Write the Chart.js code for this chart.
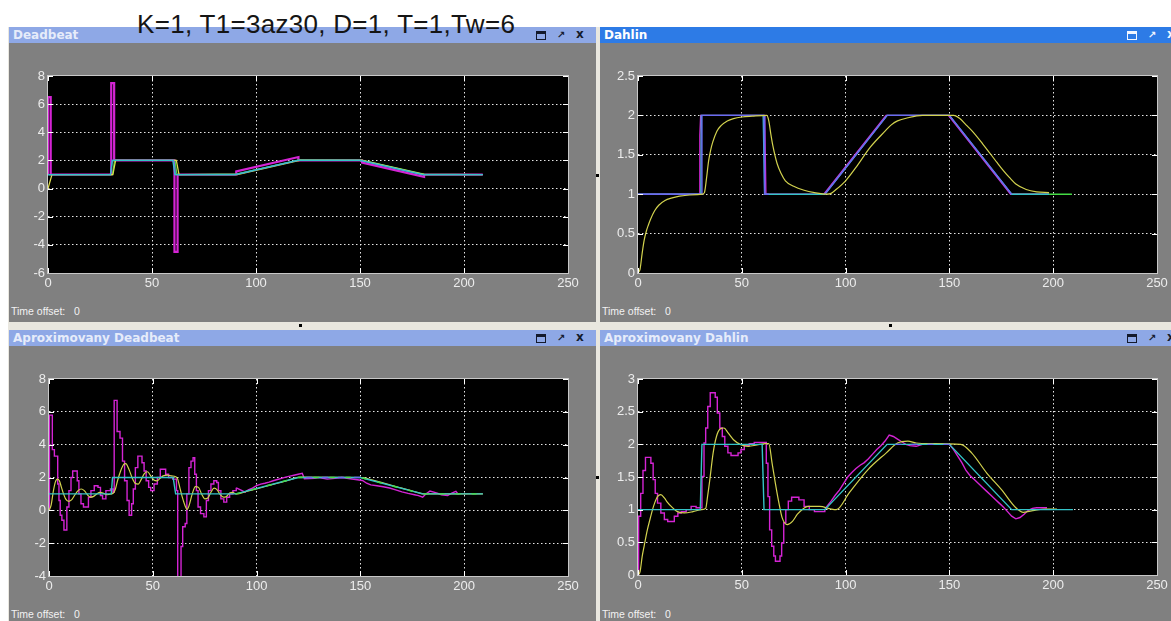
<!DOCTYPE html>
<html>
<head>
<meta charset="utf-8">
<script src="https://cdn.jsdelivr.net/npm/chart.js@4.4.1/dist/chart.umd.min.js"></script>
<style>
  html, body { margin: 0; padding: 0; }
  body { width: 1171px; height: 621px; position: relative; overflow: hidden; background: #ffffff; }
  .frame { position: absolute; background: #e9e7df; }
  .win { position: absolute; background: #808080; overflow: hidden; }
  .bar { position: absolute; left: 0; right: 0; top: 0; height: 16px; background: #8ea8e6; color: #e6ecfa;
         font: bold 12px 'DejaVu Sans', sans-serif; line-height: 16px; padding-left: 4px; box-sizing: border-box; white-space: nowrap; }
  .bar.active { background: #2d7be6; color: #ffffff; }
  .maxbox { position: absolute; left: 527px; top: 4px; width: 8px; height: 5px; border: 1.5px solid #141a2c; border-top-width: 3px; }
  .arrow { position: absolute; left: 548px; top: 0; font: bold 10px 'DejaVu Sans', sans-serif; line-height: 16px; color: #141a2c; }
  .close { position: absolute; left: 567px; top: 0; font: bold 12px 'DejaVu Sans', sans-serif; line-height: 15px; color: #141a2c; }
  .active .maxbox { border-color: #f2f6ff; }
  .active .arrow, .active .close { color: #f2f6ff; }
  .offset { position: absolute; left: 2px; font: 10.5px 'Liberation Sans', Arial, sans-serif; color: #f2f2f2; white-space: pre; }
  canvas { position: absolute; left: 0; top: 16px; }
  .dot { position: absolute; width: 3px; height: 3px; background: #000; }
  .heading { position: absolute; left: 137px; top: 12px; font: 26px 'Liberation Sans', Arial, sans-serif; letter-spacing: 0.3px;
             line-height: 25px; color: #151515; white-space: nowrap; z-index: 5; }
</style>
</head>
<body>
<div class="frame" style="left:8px;top:27px;width:1163px;height:594px;"></div>

<div class="win" style="left:9px;top:27px;width:587px;height:295px;">
  <div class="bar">Deadbeat<div class="maxbox"></div><div class="arrow">↗</div><div class="close">x</div></div>
  <canvas id="cDeadbeat" width="587" height="262"></canvas>
  <div class="offset" style="top:278px;">Time offset:   0</div>
</div>

<div class="win" style="left:600px;top:27px;width:571px;height:295px;">
  <div class="bar active">Dahlin<div class="maxbox"></div><div class="arrow">↗</div><div class="close">x</div></div>
  <canvas id="cDahlin" width="571" height="262"></canvas>
  <div class="offset" style="top:278px;">Time offset:   0</div>
</div>

<div class="win" style="left:9px;top:330px;width:587px;height:291px;">
  <div class="bar">Aproximovany Deadbeat<div class="maxbox"></div><div class="arrow">↗</div><div class="close">x</div></div>
  <canvas id="cApproxDeadbeat" width="587" height="262"></canvas>
  <div class="offset" style="top:278px;">Time offset:   0</div>
</div>

<div class="win" style="left:600px;top:330px;width:571px;height:291px;">
  <div class="bar">Aproximovany Dahlin<div class="maxbox"></div><div class="arrow">↗</div><div class="close">x</div></div>
  <canvas id="cApproxDahlin" width="571" height="262"></canvas>
  <div class="offset" style="top:278px;">Time offset:   0</div>
</div>

<div class="dot" style="left:299px;top:324px;"></div>
<div class="dot" style="left:889px;top:324px;"></div>
<div class="dot" style="left:596px;top:174px;"></div>
<div class="dot" style="left:596px;top:476px;"></div>

<div class="heading">K=1, T1=3az30, D=1, T=1,Tw=6</div>

<script>
// ---- shared axis settings ----
const timeTicks = [0, 50, 100, 150, 200, 250];

// ---- Deadbeat: [time, value] ----
const dbSetpoint = [[0,1],[30,1],[31,2],[60,2],[61,1],[90,1],[120,2],[150,2],[180,1],[209,1]];
const dbBlue     = [[0,1],[30,1],[30.8,2],[60.4,2],[61.3,1],[90,1],[120,2],[150,2],[180,1],[209,1]];
const dbOutput   = [[0,0],[0.4,0],[1.9,1],[31.2,1],[32.5,2],[61.7,2],[63,1],[91,1],[121,2],[151,2],[181,1],[209,1]];
const dbGreen    = [[0,1],[31,1],[32,2],[61,2],[62,1],[90.8,1.04],[120.8,2.04],[150.8,2.03],[180.8,1.03],[209,1]];
const dbControl  = [[0,1],[0,6.5],[1.3,6.5],[1.3,1],[30.4,1],[30.4,7.5],[31.8,7.5],[31.8,2],[60.8,2],[60.8,-4.5],
                    [62.3,-4.5],[62.3,1],[90.5,1],[90.5,1.22],[120.4,2.24],[120.4,2],[151,2],[151,1.84],[180.8,0.84],[180.8,1],[209,1]];

// ---- Dahlin ----
const dhSetpoint = [[0,1],[30.3,1],[30.5,2],[60.3,2],[61,1],[90,1],[120,2],[150,2],[180,1],[198,1]];
const dhBlue     = [[0,1],[30.6,1],[30.8,2],[60.7,2],[61,1],[63,1],[63,null],[90,null],[90,1],[120,2],[150,2],[180,1]];
const dhControl  = [[0,1],[29.8,1],[29.8,1.75],[30.2,2],[61,2],[61.6,1],[89.5,1],[119.5,2],[149.5,2],[179.5,1],[198,1]];
const dhGreen    = [[180,1],[209,1]];
const dhOutput   = [[0,0],[1,0.05],[2,0.25],[3,0.42],[4,0.53],[5,0.61],[6,0.68],[8,0.79],[10,0.86],[13,0.92],[16,0.95],
                    [20,0.975],[25,0.99],[31,1.0],[32,1.02],[33,1.2],[34,1.42],[35,1.56],[36,1.66],[38,1.8],[40,1.87],
                    [43,1.93],[46,1.96],[50,1.98],[55,1.99],[62,2.0],[63,1.93],[64,1.76],[65,1.61],[67,1.39],[69,1.26],
                    [71,1.17],[75,1.1],[80,1.05],[85,1.02],[91,1.0],[93,1.01],[95,1.05],[100,1.17],[105,1.34],[112,1.6],
                    [119,1.8],[122,1.88],[125,1.93],[130,1.97],[137,2.0],[152,2.0],[155,1.96],[158,1.88],[161,1.8],
                    [166,1.64],[173,1.4],[176,1.3],[179,1.21],[182,1.13],[187,1.06],[192,1.03],[198,1.02]];

// ---- Aproximovany Deadbeat ----
const adSetpoint = [[0,1],[30,1],[30.6,2],[59.8,2],[61,1],[90,1],[120,2],[150,2],[180,1],[209,1]];
const adRamp     = [[90,1],[120,2],[150,2],[180,1],[209,1]];
const adFlat     = [[120,2],[150,2]];
const adOutput   = [[0,0],[1,0.3],[2,1.1],[3,1.7],[4,1.9],[5,1.8],[6,1.4],[7,1.0],[8,0.7],[9.5,0.55],[11,0.65],[12.5,0.95],
                    [14,1.2],[15.5,1.3],[17,1.2],[18.5,0.95],[20,0.8],[21.5,0.85],[23,1.0],[24.5,1.1],[26,1.05],[28,0.95],
                    [30,1.0],[31,1.05],[32,1.3],[33,1.8],[34.5,2.4],[36,2.8],[37,2.85],[38.5,2.5],[40,2.0],[41.5,1.65],
                    [43,1.6],[44.5,1.9],[46,2.25],[47.5,2.35],[49,2.1],[50.5,1.85],[52,1.8],[53.5,1.95],[55,2.1],[57,2.15],
                    [59,2.1],[61,2.05],[62,1.9],[63,1.4],[64,0.9],[65.5,0.3],[66.5,0.05],[67.5,0.3],[69,1.0],[70.5,1.45],
                    [72,1.4],[73.5,1.0],[75,0.7],[76.5,0.75],[78,1.1],[79.5,1.35],[81,1.25],[82.5,0.95],[84,0.8],[85.5,0.85],
                    [87,1.05],[88.5,1.1],[90,1.0],[91,1.0],[95,1.15],[100,1.3],[105,1.48],[110,1.65],[115,1.82],[121,2.02],
                    [151,2.0],[155,1.87],[160,1.7],[165,1.52],[170,1.35],[175,1.18],[181,1.0],[185,1.0],[209,1.0]];
// transient part of the control signal (zero-order hold) and its tracking part
const adControlStep = [[0,0],[0.2,5.8],[1.6,3.7],[2.6,3.3],[4.2,1.6],[4.8,0.6],[5.4,-0.3],[6.2,-0.6],[7.2,-1.2],[8.6,0.2],
                    [9.6,1.2],[10.6,2.0],[11.4,2.4],[13.6,1.8],[14.4,1.0],[15.4,0.4],[16.6,0.2],[19.0,0.8],[20.2,1.2],
                    [21.8,1.5],[23.6,1.4],[24.8,0.9],[25.8,0.7],[27.4,1.2],[29.6,1.3],[30.8,1.1],[31.4,6.7],[32.8,4.8],
                    [34.2,4.4],[35.4,3.0],[36.4,1.8],[37.6,0.6],[38.6,-0.3],[39.8,0.4],[40.6,1.3],[41.6,2.6],[42.8,3.3],
                    [44.8,2.9],[45.8,2.4],[46.8,1.8],[48,1.4],[49,1.2],[50.6,1.6],[52.2,2.0],[53.6,2.5],[56.2,2.2],
                    [57.6,2.0],[59.6,1.9],[61.4,1.2],[62,-4.6],[63.6,-2.2],[64.4,-1.0],[65.6,-0.8],[66.4,1.0],[67.4,2.6],
                    [68.4,3.0],[69.4,3.2],[70.2,2.2],[71,1.2],[71.8,0.2],[73,-0.2],[74.6,-0.4],[75.8,0.6],[76.8,1.2],
                    [78,1.6],[79.4,1.8],[80.8,1.7],[81.6,1.2],[82.8,0.7],[84.2,0.5],[85.6,0.8],[87,1.0],[88.6,1.2],[90.2,1.37]];
const adControlTrack = [[90.2,1.37],[93,1.2],[94.5,1.1],[96,1.25],[98,1.35],[100,1.5],[102,1.6],[104,1.65],[106,1.72],
                    [108,1.8],[110,1.88],[112,1.95],[114,2.02],[116,2.08],[118,2.14],[120,2.2],[122,2.26],[123,1.92],
                    [128,1.95],[130,2.0],[134,1.9],[139,1.96],[141,2.0],[151,1.82],[153,1.65],[155,1.55],[158,1.5],
                    [161,1.44],[164,1.36],[167,1.25],[170,1.12],[173,1.03],[176,0.95],[178,0.9],[180,0.8],[181.5,1.0],
                    [183.5,1.17],[187,1.05],[189,0.95],[192,0.9],[194,1.05],[196,1.15],[197,1.0],[197.5,1.0]];

// ---- Aproximovany Dahlin ----
const adhSetpoint = [[0,1],[30,1],[30.8,2],[59.8,2],[60.7,1],[90,1],[120,2],[150,2],[180,1],[209.5,1]];
const adhFlat     = [[124,2],[150,2]];
const adhOutput   = [[0,0],[1,0.05],[2,0.28],[3,0.45],[4.5,0.69],[6,0.88],[7,1.0],[8,1.1],[9.4,1.2],[11,1.23],[12.7,1.18],
                     [14,1.12],[16,1.05],[19,0.97],[22.4,0.95],[26.5,0.97],[30.5,1.0],[32.6,1.02],[33.5,1.2],[34.6,1.46],
                     [36.2,1.87],[37.8,2.12],[39.4,2.23],[41.4,2.25],[43.5,2.17],[46,2.07],[49.2,2.0],[53.2,1.97],
                     [57.3,1.99],[61.4,2.01],[63,2.01],[64.6,1.71],[66.2,1.4],[67.9,1.1],[69.5,0.87],[71.9,0.77],
                     [74.4,0.82],[76.8,0.93],[79,1.0],[82,1.05],[87.5,1.05],[93,1.01],[95.5,1.0],[101.8,1.26],
                     [110.7,1.61],[119.6,1.87],[125,2.02],[130,2.05],[134,2.02],[141,2.01],[155.4,2.0],[160.7,1.87],
                     [168,1.56],[175,1.31],[182,1.03],[185.7,0.96],[191,0.99],[196.4,1.01],[201.8,1.01]];
const adhControlStep  = [[0,0],[0.3,0.9],[1.3,1.25],[2.4,1.6],[3.6,1.8],[6.2,1.71],[7.3,1.46],[8.3,1.25],[9.4,1.1],[11,0.95],
                     [12.7,0.85],[14.3,0.82],[17.5,0.9],[19.2,0.95],[20.8,0.97],[23.2,1.0],[25.6,1.05],[28,1.03],
                     [30.8,1.51],[31.8,2.02],[32.6,2.25],[33.6,2.58],[34.8,2.79],[37.2,2.72],[38.2,2.48],[39.4,2.25],
                     [40.6,2.12],[41.8,1.97],[43.3,1.87],[44.8,1.83],[48.2,1.87],[49.6,1.92],[51.2,1.98],[53.6,2.01],
                     [56,2.03],[61.8,1.71],[62.6,1.2],[63.4,0.69],[64.4,0.44],[65.4,0.29],[66.2,0.21],[68.4,0.29],
                     [69.2,0.49],[70.2,0.8],[71.2,1.0],[72.4,1.13],[74,1.19],[77.5,1.15],[80,1.05],[82.5,1.0],[85,0.97],[90,1.0]];
const adhControlTrack = [[90,1.0],[91,1.05],[93,1.13],[95,1.22],[97,1.3],[99,1.4],[101,1.5],[103,1.57],[105,1.63],[107,1.68],
                     [109,1.72],[111,1.78],[113,1.85],[115,1.92],[117,1.98],[119,2.05],[121,2.14],[123,2.12],[125,2.08],
                     [127,2.04],[129,2.0],[131,1.98],[134,1.97],[137,2.0],[150,2.0],[152,1.92],[154,1.82],[156,1.72],
                     [158,1.6],[160,1.52],[162,1.46],[164,1.4],[166,1.34],[168,1.28],[170,1.22],[172,1.16],[174,1.1],
                     [176,1.04],[178,0.97],[180,0.9],[182,0.86],[184,0.88],[186,0.93],[188,0.99],[190,1.02],[192,1.03],[197,1.03]];

// ---- trace colours ----
const YELLOW = '#e0e04c', YELLOW_DIM = '#d2d24e', MAGENTA = '#d424d4', CYAN = '#34c4c8', BLUE = '#6a6af2', GREEN = '#44dc44';
const FONT = "'Liberation Sans', Arial, sans-serif";

// black plot area, light frame and inward tick marks
const scopeFrame = {
  id: 'scopeFrame',
  beforeDraw(chart) {
    const a = chart.chartArea, ctx = chart.ctx;
    ctx.save();
    ctx.fillStyle = '#000';
    ctx.fillRect(a.left, a.top, a.right - a.left, a.bottom - a.top);
    ctx.restore();
  },
  afterDraw(chart) {
    const a = chart.chartArea, ctx = chart.ctx;
    const xs = chart.scales.x, ys = chart.scales.y;
    ctx.save();
    ctx.strokeStyle = '#ffffff';
    ctx.lineWidth = 1;
    ctx.beginPath();
    xs.ticks.forEach(t => {
      const px = Math.round(xs.getPixelForValue(t.value)) + 0.5;
      ctx.moveTo(px, a.top); ctx.lineTo(px, a.top + 5);
      ctx.moveTo(px, a.bottom); ctx.lineTo(px, a.bottom - 5);
    });
    ys.ticks.forEach(t => {
      const py = Math.round(ys.getPixelForValue(t.value)) + 0.5;
      ctx.moveTo(a.left, py); ctx.lineTo(a.left + 5, py);
      ctx.moveTo(a.right, py); ctx.lineTo(a.right - 5, py);
    });
    ctx.stroke();
    ctx.strokeStyle = '#c8c8c8';
    ctx.strokeRect(Math.round(a.left) - 0.5, Math.round(a.top) - 0.5,
                   Math.round(a.right - a.left) + 1, Math.round(a.bottom - a.top) + 1);
    ctx.restore();
  }
};

function buildScope(canvasId, box, yMin, yMax, yStep, layers) {
  const canvas = document.getElementById(canvasId);
  const W = canvas.width, H = canvas.height;
  const edgeAware = (lo, hi) => c =>
    (c.tick && (Math.abs(c.tick.value - lo) < 1e-9 || Math.abs(c.tick.value - hi) < 1e-9))
      ? 'rgba(0,0,0,0)' : 'rgba(255,255,255,0.9)';
  const tickStyle = { color: '#ececec', font: { family: FONT, size: 13 }, padding: 3 };
  return new Chart(canvas, {
    type: 'line',
    data: {
      datasets: layers.map(L => ({
        data: L.pts.map(p => ({ x: p[0], y: p[1] })),
        borderColor: L.color,
        borderWidth: L.width || 1.25,
        borderDash: L.dash || [],
        borderDashOffset: L.dashOffset || 0,
        stepped: !!L.stepped,
        cubicInterpolationMode: L.smooth ? 'monotone' : 'default',
        tension: 0,
        pointRadius: 0,
        pointHoverRadius: 0,
        fill: false,
        spanGaps: false
      }))
    },
    options: {
      responsive: false,
      animation: false,
      events: [],
      layout: { padding: { top: box.top, right: W - box.right, left: 0, bottom: 0 } },
      plugins: { legend: { display: false }, tooltip: { enabled: false } },
      scales: {
        x: {
          type: 'linear', position: 'bottom', min: 0, max: 250,
          afterFit: s => { s.height = H - box.bottom; },
          afterBuildTicks: s => { s.ticks = timeTicks.map(v => ({ value: v })); },
          ticks: Object.assign({ maxRotation: 0, autoSkip: false, callback: v => String(v) }, tickStyle),
          grid: { color: edgeAware(0, 250), drawTicks: false, lineWidth: 1 },
          border: { display: false, dash: [1.5, 2.5] }
        },
        y: {
          type: 'linear', min: yMin, max: yMax,
          afterFit: s => { s.width = box.left; },
          ticks: Object.assign({ stepSize: yStep, autoSkip: false, callback: v => String(+v.toFixed(2)) }, tickStyle),
          grid: { color: edgeAware(yMin, yMax), drawTicks: false, lineWidth: 1 },
          border: { display: false, dash: [1.5, 2.5] }
        }
      }
    },
    plugins: [scopeFrame]
  });
}

// Layers are listed top-most first.
buildScope('cDeadbeat', { left: 39, top: 33, right: 559, bottom: 230 }, -6, 8, 2, [
  { pts: dbSetpoint, color: CYAN },
  { pts: dbBlue, color: BLUE },
  { pts: dbOutput, color: YELLOW },
  { pts: dbGreen, color: GREEN },
  { pts: dbControl, color: MAGENTA, width: 2.2 }
]);

buildScope('cDahlin', { left: 38, top: 33, right: 557, bottom: 230 }, 0, 2.5, 0.5, [
  { pts: dhOutput, color: YELLOW_DIM, smooth: true, width: 1.2 },
  { pts: dhBlue, color: BLUE, width: 1.4 },
  { pts: dhSetpoint, color: CYAN, width: 1.4 },
  { pts: dhControl, color: MAGENTA, width: 1.4 },
  { pts: dhGreen, color: GREEN, width: 1.4 }
]);

buildScope('cApproxDeadbeat', { left: 40, top: 33, right: 559, bottom: 230 }, -4, 8, 2, [
  { pts: adRamp, color: GREEN, dash: [5, 11], width: 1.4 },
  { pts: adFlat, color: BLUE, dash: [6, 10], dashOffset: 8, width: 1.4 },
  { pts: adSetpoint, color: CYAN, width: 1.4 },
  { pts: adOutput, color: YELLOW_DIM, smooth: true, width: 1.2 },
  { pts: adControlStep, color: MAGENTA, stepped: true, width: 1.4 },
  { pts: adControlTrack, color: MAGENTA, width: 1.4 }
]);

buildScope('cApproxDahlin', { left: 38, top: 33, right: 557, bottom: 229 }, 0, 3, 0.5, [
  { pts: adhFlat, color: BLUE, dash: [6, 10], width: 1.4 },
  { pts: adhSetpoint, color: CYAN, width: 1.4 },
  { pts: adhOutput, color: YELLOW_DIM, smooth: true, width: 1.2 },
  { pts: adhControlStep, color: MAGENTA, stepped: true, width: 1.4 },
  { pts: adhControlTrack, color: MAGENTA, width: 1.4 }
]);
</script>
</body>
</html>
